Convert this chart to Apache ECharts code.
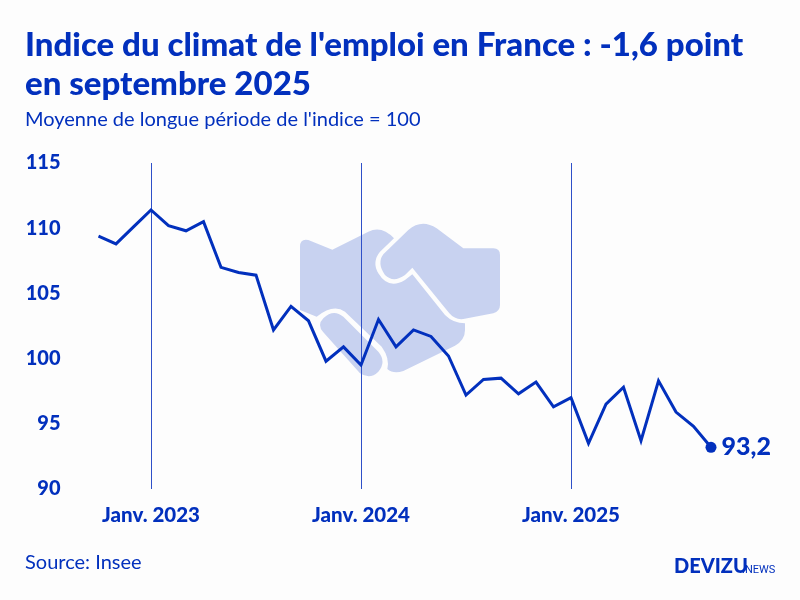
<!DOCTYPE html>
<html lang="fr" style="height: 100%">
<head>
  <meta charset="utf-8">
  <script src="https://cdn.jsdelivr.net/npm/echarts@6/dist/echarts.min.js"></script>
</head>
<body style="height: 100%; margin: 0; background: #fdfdfd">
  <div id="container" style="width: 800px; height: 600px"></div>
  <script type="text/javascript">
    // monthly values, oct. 2022 to sept. 2025
    var months = [
      'Oct. 2022', 'Nov. 2022', 'Déc. 2022',
      'Janv. 2023', 'Févr. 2023', 'Mars 2023', 'Avr. 2023', 'Mai 2023', 'Juin 2023',
      'Juil. 2023', 'Août 2023', 'Sept. 2023', 'Oct. 2023', 'Nov. 2023', 'Déc. 2023',
      'Janv. 2024', 'Févr. 2024', 'Mars 2024', 'Avr. 2024', 'Mai 2024', 'Juin 2024',
      'Juil. 2024', 'Août 2024', 'Sept. 2024', 'Oct. 2024', 'Nov. 2024', 'Déc. 2024',
      'Janv. 2025', 'Févr. 2025', 'Mars 2025', 'Avr. 2025', 'Mai 2025', 'Juin 2025',
      'Juil. 2025', 'Août 2025', 'Sept. 2025'
    ];
    var climat = [
      109.4, 108.8, 110.1,
      111.4, 110.2, 109.8, 110.5, 107.0, 106.6,
      106.4, 102.2, 104.0, 102.9, 99.8, 100.9,
      99.5, 103.0, 100.9, 102.2, 101.7, 100.2,
      97.2, 98.4, 98.5, 97.3, 98.2, 96.3,
      97.0, 93.5, 96.5, 97.8, 93.7, 98.3,
      95.9, 94.8, 93.2
    ];

    var blue = '#0230bd';
    var font = 'Lato';

    // handshake watermark shapes, graphic has no plain path type so register them
    var handPaths = [
      'M30,95 Q30,70 55,75 L127,104 L235,50 Q275,30 312,70 L270,110 Q245,140 265,175 Q295,225 345,195 L367,178 L465,300 Q490,325 525,325 L525,345 Q525,375 495,392 L340,468 Q310,478 292,462 Q300,430 275,395 L165,290 Q130,265 80,305 L30,285 Z',
      'M280,118 L355,45 Q395,10 440,40 L520,100 L610,100 Q630,100 630,120 L630,270 Q630,288 610,295 L520,312 Q495,315 478,295 L367,158 L345,180 Q310,205 285,180 Q260,145 280,118 Z',
      'M100,310 Q130,280 160,305 L265,410 Q290,440 265,470 Q240,495 210,475 L100,352 Q80,330 100,310 Z'
    ];
    handPaths.forEach(function (d, i) {
      echarts.graphic.registerShape('hand' + i, echarts.graphic.extendPath(d));
    });

    var seriesData = climat.map(function (v, i) {
      if (i < climat.length - 1) return { value: v, symbol: 'none' };
      return {
        value: v,
        symbol: 'circle',
        symbolSize: 11,
        label: {
          show: true,
          position: 'right',
          distance: 5,
          color: blue,
          fontFamily: font,
          fontWeight: 900,
          fontSize: 25,
          formatter: function (p) { return String(p.value).replace('.', ','); }
        }
      };
    });

    var isJan = function (i, name) { return name.indexOf('Janv.') === 0; };

    var myChart = echarts.init(document.getElementById('container'), null, { renderer: 'canvas' });
    myChart.setOption({
      animation: false,
      backgroundColor: '#fdfdfd',
      title: [
        {
          text: "Indice du climat de l'emploi en France : -1,6 point\nen septembre 2025",
          left: 20, top: 21,
          textStyle: { color: blue, fontFamily: font, fontWeight: 900, fontSize: 33, lineHeight: 39 }
        },
        {
          text: "Moyenne de longue période de l'indice = 100",
          left: 20, top: 105,
          textStyle: { color: blue, fontFamily: font, fontWeight: 'normal', fontSize: 20 }
        },
        {
          text: 'Source: Insee',
          left: 20, top: 548,
          textStyle: { color: blue, fontFamily: font, fontWeight: 'normal', fontSize: 20 }
        },
        {
          text: 'DEVIZU',
          left: 669, top: 552,
          textStyle: { color: blue, fontFamily: font, fontWeight: 900, fontSize: 20 }
        },
        {
          text: '.NEWS',
          left: 737, top: 560,
          textStyle: { color: blue, fontFamily: 'Roboto', fontWeight: 'normal', fontSize: 11 }
        }
      ],
      grid: { left: 98.5, top: 163, width: 612.5, height: 326 },
      xAxis: {
        type: 'category',
        data: months,
        boundaryGap: false,
        axisLine: { show: false },
        axisTick: { show: false },
        splitLine: {
          show: true,
          interval: isJan,
          lineStyle: { color: '#2f50c8', width: 1 }
        },
        axisLabel: {
          interval: isJan,
          margin: 16,
          color: blue,
          fontFamily: font,
          fontWeight: 900,
          fontSize: 20.5
        }
      },
      yAxis: {
        type: 'value',
        min: 90,
        max: 115,
        interval: 5,
        splitLine: { show: false },
        axisLine: { show: false },
        axisTick: { show: false },
        axisLabel: {
          margin: 38,
          color: blue,
          fontFamily: font,
          fontWeight: 900,
          fontSize: 20
        }
      },
      graphic: [{
        type: 'group',
        x: 290, y: 215, scaleX: 1 / 3, scaleY: 1 / 3,
        z: -1,
        silent: true,
        children: handPaths.map(function (d, i) {
          return { type: 'hand' + i, style: { fill: '#c8d2f0' } };
        })
      }],
      series: [{
        type: 'line',
        data: seriesData,
        showAllSymbol: true,
        lineStyle: { color: blue, width: 3, join: 'miter' },
        itemStyle: { color: blue }
      }]
    });

    window.addEventListener('resize', myChart.resize);
  </script>
</body>
</html>
